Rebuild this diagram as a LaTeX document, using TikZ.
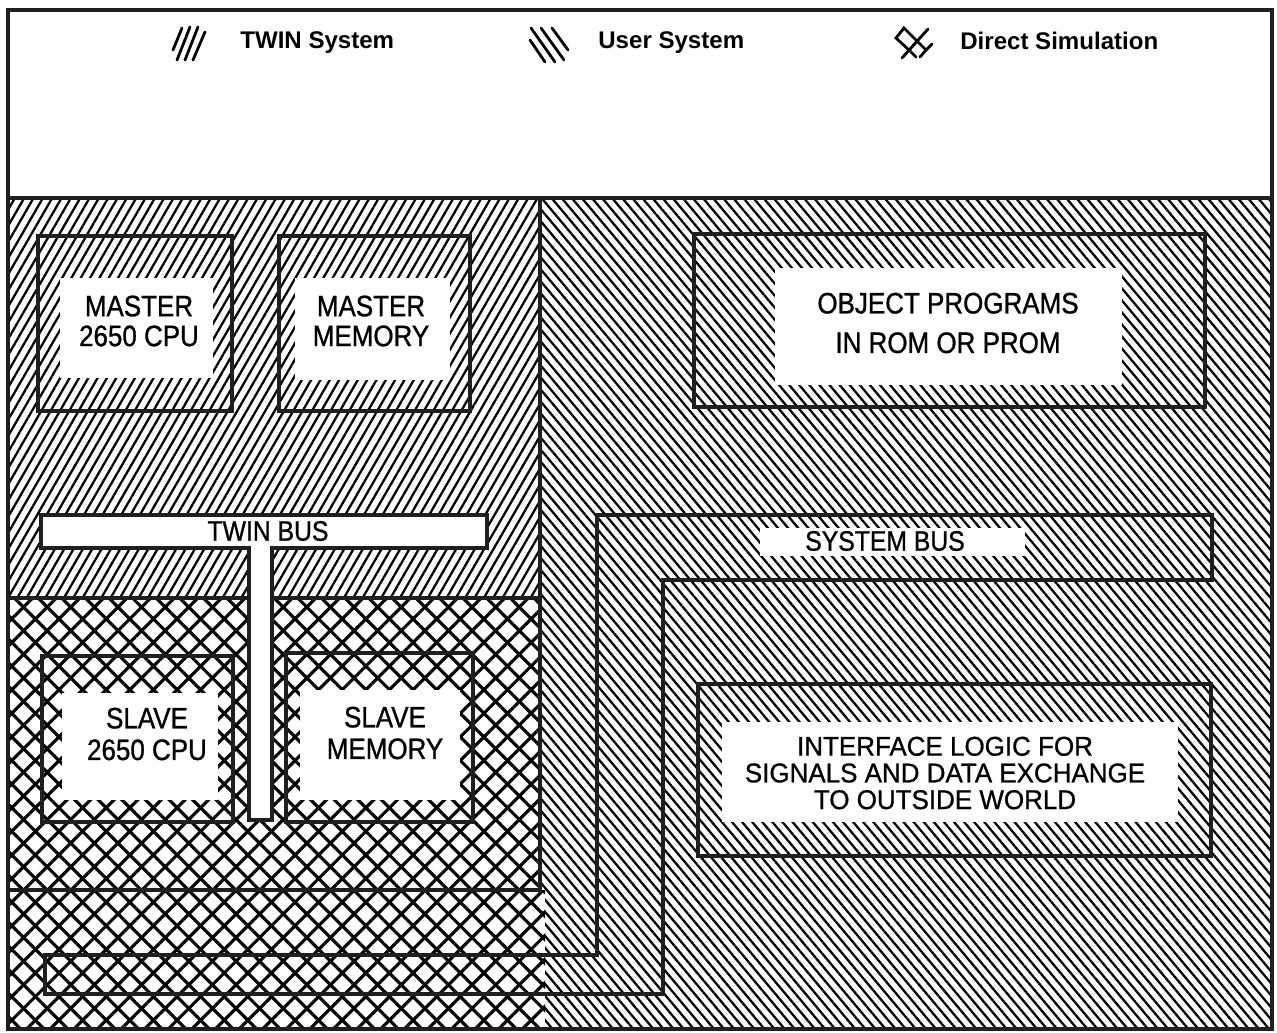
\documentclass[tikz,border=0pt]{standalone}
\usepackage{fontspec}
\setmainfont{Liberation Sans}
\newfontfamily\boxfont[FakeBold=0.9, FakeStretch=0.88]{Liberation Sans}
\newfontfamily\boxfontw[FakeBold=0.9, FakeStretch=0.96]{Liberation Sans}
\usetikzlibrary{patterns.meta,fit}
\def\uu{0.02cm}
\begin{document}
\begin{tikzpicture}[x=0.02cm,y=-0.02cm,
  bord/.style={line width=2.7pt, draw=black!88, line join=miter},
  box/.style={draw=black!88, line width=2.7pt, inner sep=0pt},
  twinhatch/.style={pattern={Lines[angle=60,distance=4.6pt,line width=1.3pt]}},
  userhatch/.style={pattern={Lines[angle=-50,distance=4.4pt,line width=1.3pt]}},
  xa/.style={pattern={Lines[angle=45,distance=9.5pt,line width=1.8pt]}},
  xb/.style={pattern={Lines[angle=-45,distance=9.5pt,line width=1.8pt]}},
  white/.style={fill=white, inner sep=0pt},
  txt/.style={align=center, inner sep=0pt, font=\boxfont\fontsize{16.8}{17}\selectfont},
  leg/.style={anchor=west, inner sep=0pt, font=\bfseries\fontsize{13.7}{16}\selectfont},
  icon/.style={line width=1.6pt, line cap=round}
]
\useasboundingbox (0,0) rectangle (1277,1032);
\fill[white] (0,0) rectangle (1277,1032);

% hatched regions
\path[twinhatch] (9,198) rectangle (540,598);
\path[xa] (9,598) -- (540,598) -- (540,890) -- (545,890) -- (545,1029) -- (9,1029) -- cycle;
\path[xb] (9,598) -- (540,598) -- (540,890) -- (545,890) -- (545,1029) -- (9,1029) -- cycle;
\path[userhatch] (540,198) -- (1272,198) -- (1272,1029) -- (545,1029) -- (545,890) -- (540,890) -- cycle;

% block boxes
\node[box, fit={(38,236) (232,411)}] (mcpuBox) {};
\node[box, fit={(279,236) (470,411)}] (mmemBox) {};
\node[box, fit={(694,234) (1205,407)}] (objBox) {};
\node[box, fit={(42,656) (233,822)}] (scpuBox) {};
\node[box, fit={(286,653) (473,822)}] (smemBox) {};
\node[box, fit={(698,684) (1211,856)}] (intfBox) {};

% white label areas
\node[white, minimum width=153*\uu, minimum height=100*\uu] (mcpuW) at (136.5,328) {};
\node[white, minimum width=155*\uu, minimum height=102*\uu] (mmemW) at (372.5,329) {};
\node[white, minimum width=347*\uu, minimum height=117*\uu] (objW) at (948.5,326.5) {};
\node[white, minimum width=156*\uu, minimum height=107*\uu] (scpuW) at (140,746.5) {};
\node[white, minimum width=160*\uu, minimum height=110*\uu] (smemW) at (380,745) {};
\node[white, minimum width=456*\uu, minimum height=100*\uu] (intfW) at (950,772) {};

% labels
\node[txt] (mcpu) at (139,321) {MASTER\\2650 CPU};
\node[txt] (mmem) at (371,321) {MASTER\\MEMORY};
\node[txt, font=\boxfont\fontsize{16.8}{22.5}\selectfont] (obj) at (948,323) {OBJECT PROGRAMS\\IN ROM OR PROM};
\node[txt, font=\boxfont\fontsize{16.8}{18}\selectfont] (scpu) at (147,734) {SLAVE\\2650 CPU};
\node[txt, font=\boxfont\fontsize{16.8}{18}\selectfont] (smem) at (385,733) {SLAVE\\MEMORY};
\node[txt, font=\boxfontw\fontsize{15.4}{15.2}\selectfont] (intf) at (945,773) {INTERFACE LOGIC FOR\\SIGNALS AND DATA EXCHANGE\\TO OUTSIDE WORLD};

% region boundaries
\draw[bord] (540,198) -- (540,890) -- (9,890);
\draw[bord] (9,598) -- (249,598);
\draw[bord] (272,598) -- (540,598);

% twin bus (T shape)
\draw[bord, fill=white] (41,515) -- (487,515) -- (487,548) -- (272,548) -- (272,820) -- (249,820) -- (249,548) -- (41,548) -- cycle;
\node[txt, font=\boxfont\fontsize{16}{16}\selectfont] (tbus) at (268,531) {TWIN BUS};

% system bus channel
\draw[bord] (597,515) -- (1212,515) -- (1212,580) -- (663,580) -- (663,994) -- (45,994) -- (45,955) -- (597,955) -- cycle;
\node[white, minimum width=265*\uu, minimum height=28*\uu] (sbusW) at (892,542) {};
\node[txt, font=\boxfont\fontsize{16}{16}\selectfont] (sbus) at (885,541) {SYSTEM BUS};

% frame and legend
\draw[bord] (8,10) rectangle (1272,1029);
\draw[bord] (8,198) -- (1272,198);

\draw[icon] (173,50) -- (182,28);
\draw[icon] (177,60) -- (190,27);
\draw[icon] (185,60) -- (198,27);
\draw[icon] (193,60) -- (205,32);
\node[leg] (ltwin) at (240,43) {TWIN System};

\draw[icon] (530,40) -- (545,62);
\draw[icon] (531,28) -- (555,62);
\draw[icon] (541,28) -- (564,60);
\draw[icon] (552,28) -- (568,50);
\node[leg] (luser) at (598,43) {User System};

\draw[icon] (910,51) -- (896,38) -- (904,28) -- (926,50) -- (920,57);
\draw[icon] (926,50) -- (932,44);
\draw[icon] (902,58) -- (928,29);
\draw[icon] (910,51) -- (916,57);
\node[leg] (ldirect) at (960,41) {Direct Simulation};
\end{tikzpicture}
\end{document}
